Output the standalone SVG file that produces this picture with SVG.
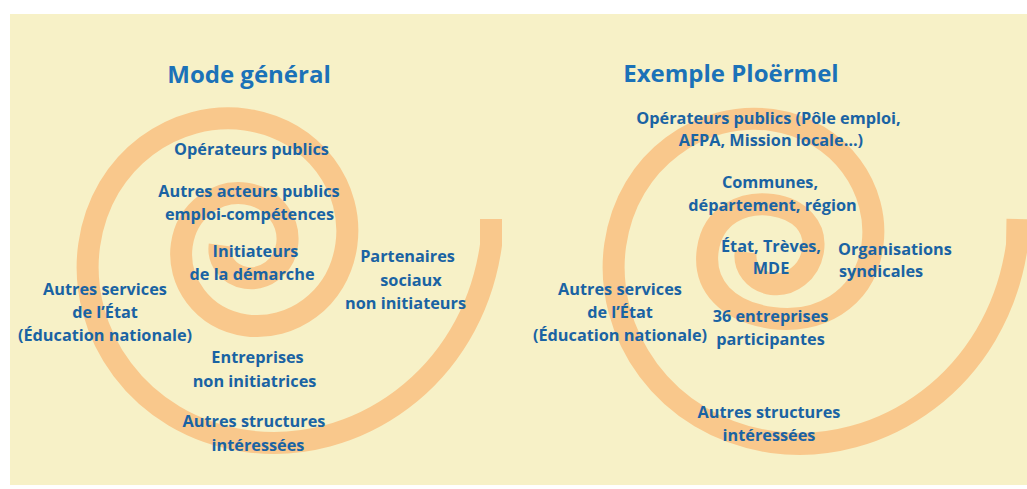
<svg xmlns="http://www.w3.org/2000/svg" width="1027" height="489" viewBox="0 0 1027 489">
  <style>
    .bg { fill: #F7F1C7; }
    .spiral { fill: none; stroke: #F9C88C; stroke-width: 22; stroke-linecap: butt; stroke-linejoin: round; }
    .title { font-family: "Open Sans", "Noto Sans", sans-serif; font-weight: 700; font-size: 24px; fill: #1B72B8; text-anchor: middle; }
    .lbl { font-family: "Open Sans", "Noto Sans", sans-serif; font-weight: 700; font-size: 16.3px; fill: #1A63A3; text-anchor: middle; }
    .lbl.start { text-anchor: start; }
  </style>
  <rect width="1027" height="489" fill="#FFFFFF"/>
  <rect class="bg" x="10" y="14" width="1017" height="471"/>

  <g id="spirals">
    <path id="spiral-left" class="spiral" d="M491,219 L491,245 C471.77,380.31 354.25,456.38 246,441 C137.75,425.62 76.89,331.6 89.2,245 C101.51,158.4 176.72,109.72 246,119.56 C315.28,129.4 354.23,189.58 346.35,245 C338.47,300.42 290.34,331.58 246,325.28 C201.66,318.98 176.73,280.47 181.77,245 C186.81,209.53 217.62,189.59 246,193.62 C274.38,197.65 290.33,222.3 287.1,245 C283.87,267.7 264.16,280.46 246,277.88 C227.84,275.3 217.63,259.53 219.69,245"/>
    <path id="spiral-right" class="spiral" d="M1017.5,219 L1017,245 C997.77,380.31 880.25,457.38 772,442 C663.75,426.62 602.89,331.6 615.2,245 C627.51,158.4 702.72,110.16 772,120 C841.28,129.84 880.23,190.58 872.35,246 C864.47,301.42 816.34,324.3 772,318 C727.66,311.7 702.73,285.47 707.77,250 C712.81,214.53 743.62,200.97 772,205 C800.38,209.03 816.33,227.3 813.1,250 C809.87,272.7 790.16,286.58 772,284 C753.84,281.42 743.64,266.53 745.7,252"/>
  </g>

  <g id="title-left"><text class="title" x="249" y="83">Mode général</text></g>
  <g id="title-right"><text class="title" x="731" y="82">Exemple Ploërmel</text></g>

  <g id="l-operateurs"><text class="lbl" x="251.5" y="155">Opérateurs publics</text></g>
  <g id="l-autres-acteurs">
    <text class="lbl" x="249" y="197">Autres acteurs publics</text>
    <text class="lbl" x="249.5" y="220">emploi-compétences</text>
  </g>
  <g id="l-initiateurs">
    <text class="lbl" x="255.5" y="257">Initiateurs</text>
    <text class="lbl" x="252" y="280">de la démarche</text>
  </g>
  <g id="l-partenaires">
    <text class="lbl" x="407.5" y="262">Partenaires</text>
    <text class="lbl" x="411" y="286">sociaux</text>
    <text class="lbl" x="405.5" y="309">non initiateurs</text>
  </g>
  <g id="l-autres-services">
    <text class="lbl" x="105" y="295">Autres services</text>
    <text class="lbl" x="105" y="318">de l’État</text>
    <text class="lbl" x="105" y="341">(Éducation nationale)</text>
  </g>
  <g id="l-entreprises">
    <text class="lbl" x="257.5" y="363">Entreprises</text>
    <text class="lbl" x="254.5" y="387">non initiatrices</text>
  </g>
  <g id="l-autres-structures">
    <text class="lbl" x="254" y="427">Autres structures</text>
    <text class="lbl" x="258" y="451">intéressées</text>
  </g>

  <g id="r-operateurs">
    <text class="lbl" x="768.5" y="124">Opérateurs publics (Pôle emploi,</text>
    <text class="lbl" x="771" y="146">AFPA, Mission locale…)</text>
  </g>
  <g id="r-communes">
    <text class="lbl" x="770" y="188">Communes,</text>
    <text class="lbl" x="772.5" y="211">département, région</text>
  </g>
  <g id="r-etat">
    <text class="lbl" x="771" y="252">État, Trèves,</text>
    <text class="lbl" x="771" y="274">MDE</text>
  </g>
  <g id="r-organisations">
    <text class="lbl start" x="838" y="255">Organisations</text>
    <text class="lbl start" x="839" y="277">syndicales</text>
  </g>
  <g id="r-autres-services">
    <text class="lbl" x="620" y="295">Autres services</text>
    <text class="lbl" x="620" y="318">de l’État</text>
    <text class="lbl" x="620" y="341">(Éducation nationale)</text>
  </g>
  <g id="r-entreprises">
    <text class="lbl" x="770.5" y="322">36 entreprises</text>
    <text class="lbl" x="770.5" y="345">participantes</text>
  </g>
  <g id="r-autres-structures">
    <text class="lbl" x="769" y="418">Autres structures</text>
    <text class="lbl" x="769" y="441">intéressées</text>
  </g>
</svg>
